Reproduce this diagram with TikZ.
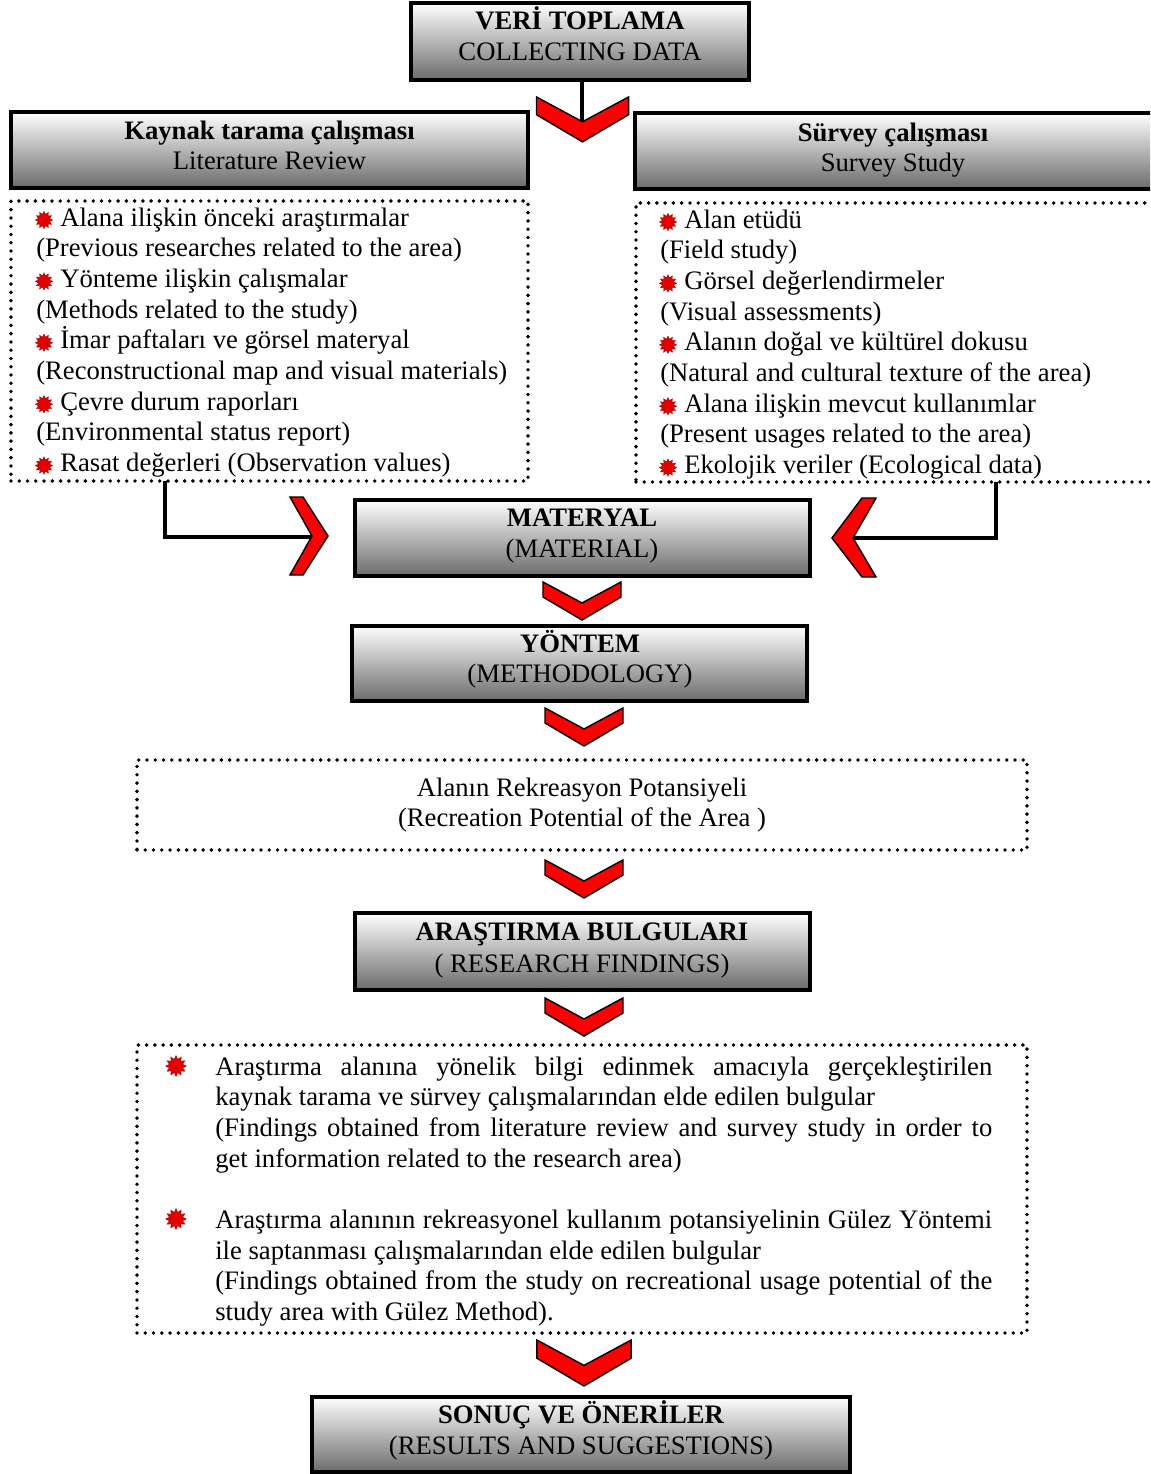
\documentclass[tikz,border=0pt]{standalone}
\usepackage{fontspec}
\setmainfont{Liberation Serif}
\usetikzlibrary{fit,shapes.geometric}
\newcommand{\jline}[1]{\makebox[582.75pt][s]{#1}}
\begin{document}
\begin{tikzpicture}[x=0.75pt,y=-0.75pt,
  font=\fontsize{20}{23}\selectfont,
  gbox/.style={draw=black, line width=2.6pt, top color=white, bottom color=black!58, inner sep=0pt},
  dbox/.style={draw=black, line width=2.9pt, dash pattern=on 0pt off 6.2pt, line cap=round, inner sep=0pt},
  txt/.style={anchor=base, inner sep=0pt},
  ltxt/.style={anchor=base west, inner sep=0pt},
  bul/.style={star, star points=12, star point ratio=1.5, fill=red!90!black, draw=red!65!black, line width=0.3pt, minimum size=13pt, inner sep=0pt},
  bigbul/.style={bul, minimum size=15.5pt},
  conn/.style={line width=2.3pt},
  chev/.style={fill=red, draw=black, line width=1.1pt, line join=miter},
  chevdown/.pic={\path[chev] (-39,0) -- (0,21) -- (39,0) -- (39,15) -- (0,38) -- (-39,15) -- cycle;}
]
\useasboundingbox (0,0) rectangle (1150,1474);
\clip (0,0) rectangle (1150,1474);

% ---------- boxes ----------
\node[gbox, fit={(411,3)(749,80)}] (top) {};
\node[gbox, fit={(11,112)(528,188)}] (lit) {};
\node[gbox, fit={(635,113)(1153,189)}] (sur) {};
\node[dbox, fit={(11,201)(528,481)}] (litlist) {};
\node[dbox, fit={(636,203)(1160,482)}] (surlist) {};
\node[gbox, fit={(355,500)(810,576)}] (mat) {};
\node[gbox, fit={(352,626)(807,701)}] (met) {};
\node[dbox, fit={(137,760)(1027,850)}] (pot) {};
\node[gbox, fit={(355,913)(810,990)}] (find) {};
\node[dbox, fit={(137,1045)(1027,1333)}] (findlist) {};
\node[gbox, fit={(312,1397)(850,1472)}] (res) {};

% ---------- box texts ----------
\node[txt, font=\fontsize{20}{23}\selectfont\bfseries] (topA) at (580,29.5) {VERİ TOPLAMA};
\node[txt] (topB) at (580,60) {COLLECTING DATA};
\node[txt, font=\fontsize{20}{23}\selectfont\bfseries] (litA) at (269.5,139.5) {Kaynak tarama çalışması};
\node[txt] (litB) at (269.5,169.5) {Literature Review};
\node[txt, font=\fontsize{20}{23}\selectfont\bfseries] (surA) at (893,141.5) {Sürvey çalışması};
\node[txt] (surB) at (893,171) {Survey Study};
\node[txt, font=\fontsize{20}{23}\selectfont\bfseries] (matA) at (582,526.5) {MATERYAL};
\node[txt] (matB) at (582,557.5) {(MATERIAL)};
\node[txt, font=\fontsize{20}{23}\selectfont\bfseries] (metA) at (580,652.5) {YÖNTEM};
\node[txt] (metB) at (580,682.5) {(METHODOLOGY)};
\node[txt] (potA) at (582,796) {Alanın Rekreasyon Potansiyeli};
\node[txt] (potB) at (582,826.5) {(Recreation Potential of the Area )};
\node[txt, font=\fontsize{20}{23}\selectfont\bfseries] (findA) at (582,940.5) {ARAŞTIRMA BULGULARI};
\node[txt] (findB) at (582,972.5) {( RESEARCH FINDINGS)};
\node[txt, font=\fontsize{20}{23}\selectfont\bfseries] (resA) at (581,1423.5) {SONUÇ VE ÖNERİLER};
\node[txt] (resB) at (581,1454.5) {(RESULTS AND SUGGESTIONS)};

% ---------- left list ----------
\node[bul] (lb1) at (44,220) {};
\node[ltxt] (l1) at (60,226) {Alana ilişkin önceki araştırmalar};
\node[ltxt] (l2) at (36,256.7) {(Previous researches related to the area)};
\node[bul] (lb2) at (44,281.4) {};
\node[ltxt] (l3) at (60,287.4) {Yönteme ilişkin çalışmalar};
\node[ltxt] (l4) at (36,318.1) {(Methods related to the study)};
\node[bul] (lb3) at (44,342.8) {};
\node[ltxt] (l5) at (60,348.8) {İmar paftaları ve görsel materyal};
\node[ltxt] (l6) at (36,379.5) {(Reconstructional map and visual materials)};
\node[bul] (lb4) at (44,404.2) {};
\node[ltxt] (l7) at (60,410.2) {Çevre durum raporları};
\node[ltxt] (l8) at (36,440.9) {(Environmental status report)};
\node[bul] (lb5) at (44,465.6) {};
\node[ltxt] (l9) at (60,471.6) {Rasat değerleri (Observation values)};

% ---------- right list ----------
\node[bul] (rb1) at (668,222) {};
\node[ltxt] (r1) at (684,228) {Alan etüdü};
\node[ltxt] (r2) at (660,258.7) {(Field study)};
\node[bul] (rb2) at (668,283.4) {};
\node[ltxt] (r3) at (684,289.4) {Görsel değerlendirmeler};
\node[ltxt] (r4) at (660,320.1) {(Visual assessments)};
\node[bul] (rb3) at (668,344.8) {};
\node[ltxt] (r5) at (684,350.8) {Alanın doğal ve kültürel dokusu};
\node[ltxt] (r6) at (660,381.5) {(Natural and cultural texture of the area)};
\node[bul] (rb4) at (668,406.2) {};
\node[ltxt] (r7) at (684,412.2) {Alana ilişkin mevcut kullanımlar};
\node[ltxt] (r8) at (660,442.9) {(Present usages related to the area)};
\node[bul] (rb5) at (668,467.6) {};
\node[ltxt] (r9) at (684,473.6) {Ekolojik veriler (Ecological data)};

% ---------- findings list ----------
\node[bigbul] (fb1) at (176,1066) {};
\node[ltxt] (f1) at (215,1075) {\jline{Araştırma alanına yönelik bilgi edinmek amacıyla gerçekleştirilen}};
\node[ltxt] (f2) at (215,1105.7) {kaynak tarama ve sürvey çalışmalarından elde edilen bulgular};
\node[ltxt] (f3) at (215,1136.4) {\jline{(Findings obtained from literature review and survey study in order to}};
\node[ltxt] (f4) at (215,1167.1) {get information related to the research area)};
\node[bigbul] (fb2) at (176,1219) {};
\node[ltxt] (f5) at (215,1228.5) {\jline{Araştırma alanının rekreasyonel kullanım potansiyelinin Gülez Yöntemi}};
\node[ltxt] (f6) at (215,1259.2) {ile saptanması çalışmalarından elde edilen bulgular};
\node[ltxt] (f7) at (215,1289.9) {\jline{(Findings obtained from the study on recreational usage potential of the}};
\node[ltxt] (f8) at (215,1320.6) {study area with Gülez Method).};

% ---------- connectors ----------
\coordinate (c1) at (582,123);
\draw[conn] (c1 |- top.south) -- (c1);
\coordinate (lstart) at (165,481);
\coordinate (lend) at (312,537);
\draw[conn] (lstart) |- (lend);
\coordinate (rstart) at (996,482);
\coordinate (rend) at (853,538);
\draw[conn] (rstart) |- (rend);

% ---------- chevrons ----------
\pic[scale=1.18] at (582.5,97) {chevdown};
\pic at (582,582) {chevdown};
\pic at (584,708) {chevdown};
\pic at (584,860) {chevdown};
\pic at (584,998) {chevdown};
\pic[scale=1.21] at (584,1340) {chevdown};
\path[chev] (290,497) -- (312,536) -- (290,575) -- (303,575) -- (328,536) -- (303,497) -- cycle;
\path[chev] (876,498) -- (853,538) -- (876,577) -- (862,577) -- (832,538) -- (862,498) -- cycle;
\end{tikzpicture}
\end{document}
